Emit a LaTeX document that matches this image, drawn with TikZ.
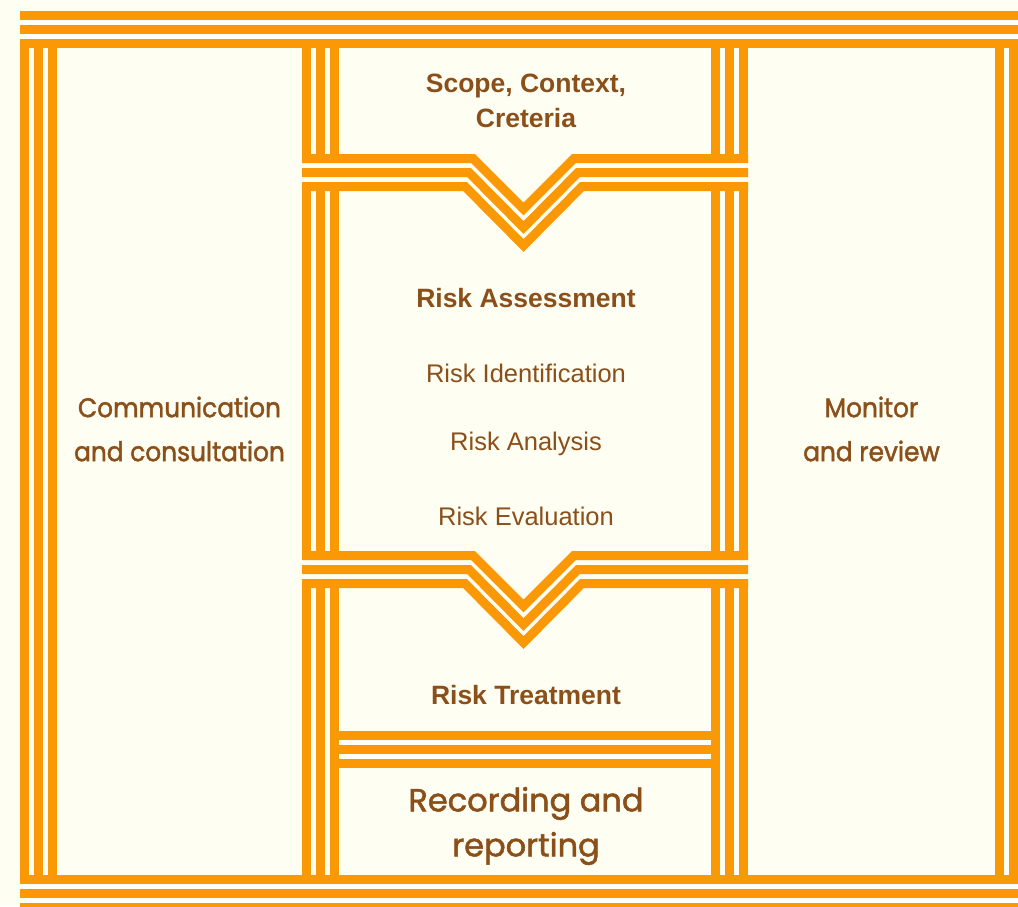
\documentclass[tikz,border=0pt]{standalone}
\usepackage{fontspec}
\setmainfont{Liberation Sans}
\newfontfamily\roundf[AutoFakeBold=1.6]{Poppins}
\newfontfamily\roundn[AutoFakeBold=1.6,FakeStretch=0.92]{Poppins}
\definecolor{bgc}{RGB}{254,254,242}
\definecolor{org}{RGB}{251,152,5}
\definecolor{txt}{RGB}{139,79,26}
\begin{document}
\begin{tikzpicture}[x=1pt,y=-1pt,
  band/.style={fill=org},
  stripe/.style={draw=org,line width=9pt,line join=miter,line cap=butt},
  lbl/.style={text=txt,align=center,inner sep=0pt},
  sbold/.style={lbl,font=\fontsize{26.5}{35}\selectfont\bfseries},
  sreg/.style={lbl,font=\fontsize{25.5}{30}\selectfont},
  rnd/.style={lbl,font=\roundn\bfseries\fontsize{27}{44}\selectfont},
  rndbig/.style={lbl,font=\roundf\bfseries\fontsize{32}{45}\selectfont}]
\fill[bgc] (0,0) rectangle (1018,906);
\useasboundingbox (0,0) rectangle (1018,906);
\clip (0,0) rectangle (1018,906);
% top and bottom bands
\foreach \y in {11,25,39,875,889,903}
  \fill[band] (20,\y) rectangle (1040,\y+9);
% outer vertical bands
\foreach \x in {20,34,48,995,1009,1023}
  \fill[band] (\x,39) rectangle (\x+9,884);
% middle column vertical bands
\foreach \x in {302,316,330,711,725,739} {
  \fill[band] (\x,48) rectangle (\x+9,154);
  \fill[band] (\x,191) rectangle (\x+9,551);
  \fill[band] (\x,588) rectangle (\x+9,875);
}
% separator between treatment and recording
\foreach \y in {731,745,759}
  \fill[band] (339,\y) rectangle (711,\y+9);
% chevrons
\foreach \o in {0,397} {
  \draw[stripe] (302,158.5+\o) -- (473,158.5+\o) -- (523.5,209+\o) -- (574,158.5+\o) -- (748,158.5+\o);
  \draw[stripe] (302,172.5+\o) -- (469,172.5+\o) -- (523.5,227.5+\o) -- (578,172.5+\o) -- (748,172.5+\o);
  \draw[stripe] (302,186.5+\o) -- (465,186.5+\o) -- (523.5,245.5+\o) -- (582,186.5+\o) -- (748,186.5+\o);
}
% labels
\node[sbold] (scope) at (526,101) {Scope, Context,\\Creteria};
\node[sbold] (assess) at (526,298) {Risk Assessment};
\node[sreg] (ident) at (526,373) {Risk Identification};
\node[sreg] (analysis) at (526,444) {Risk Analysis};
\node[sreg] (eval) at (526,516) {Risk Evaluation};
\node[sbold] (treat) at (526,695) {Risk Treatment};
\node[rndbig] (record) at (526,826) {Recording and\\reporting};
\node[rnd] (comm) at (179.5,429) {Communication\\and consultation};
\node[rnd] (monitor) at (871.5,429) {Monitor\\and review};
\end{tikzpicture}
\end{document}
